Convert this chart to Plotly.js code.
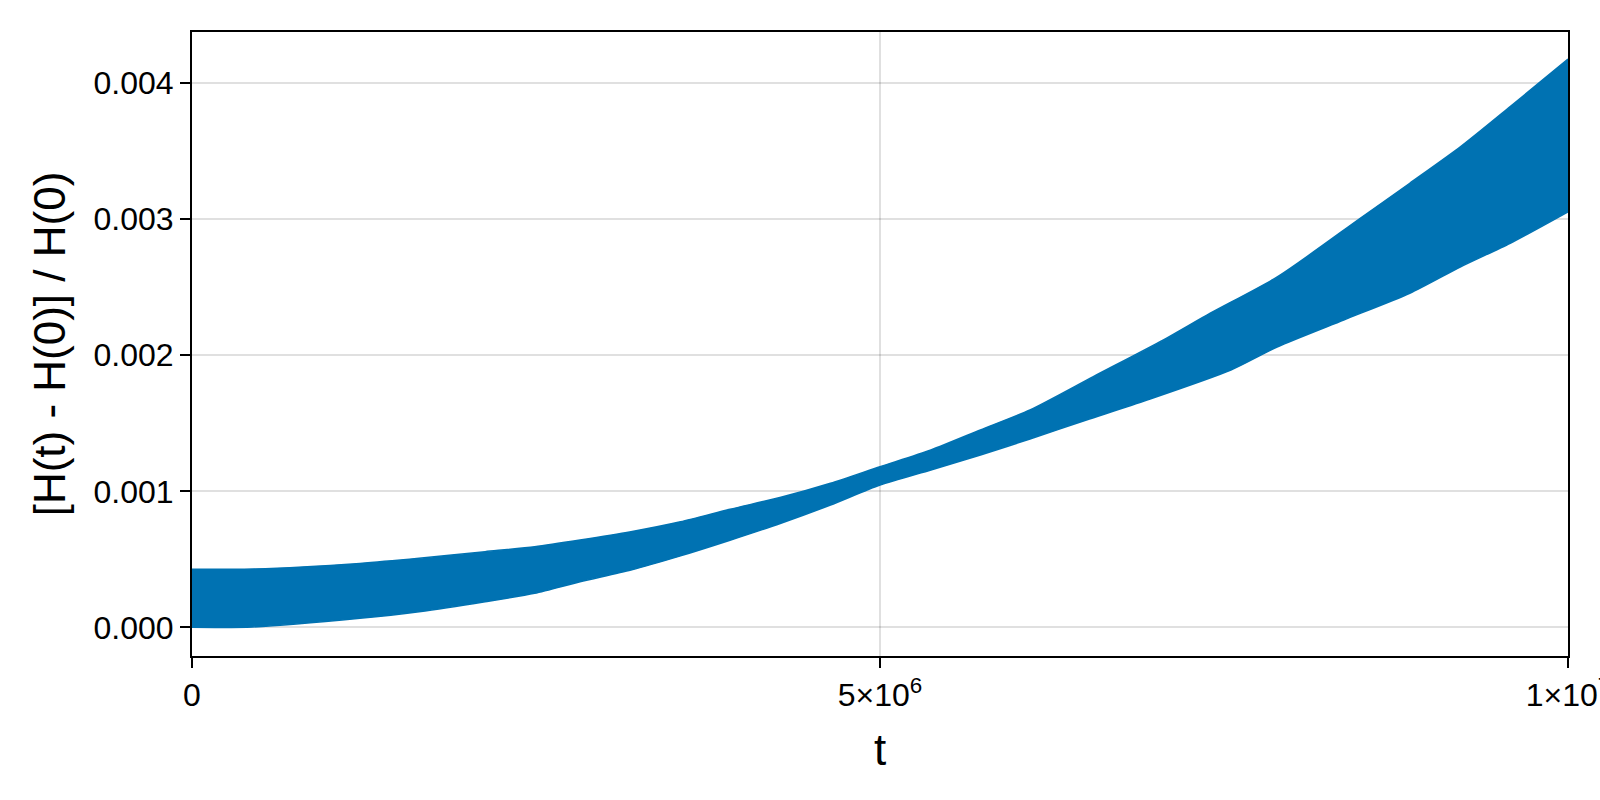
<!DOCTYPE html>
<html>
<head>
<meta charset="utf-8">
<script src="https://cdn.plot.ly/plotly-3.0.1.min.js"></script>
<style>
  html, body { margin: 0; padding: 0; background: #ffffff; }
  #chart { width: 1600px; height: 800px; }
</style>
</head>
<body>
<div id="chart"></div>
<script>
// Upper envelope of the oscillating energy error (t in units of 1e6)
const tUpper = [0, 0.44, 1.22, 1.65, 2.13, 2.49, 2.82, 3.19, 3.55, 3.91, 4.28, 4.64, 5.00, 5.37, 5.73, 6.09, 6.55, 7.06, 7.40, 7.89, 8.49, 8.85, 9.22, 9.58, 10.0];
const hUpper = [0.000426, 0.000429, 0.000470, 0.000507, 0.000556, 0.000593, 0.000642, 0.000703, 0.000776, 0.000868, 0.000956, 0.001059, 0.001181, 0.001304, 0.001451, 0.001598, 0.001843, 0.002113, 0.002309, 0.002578, 0.003007, 0.003265, 0.003534, 0.003828, 0.004178];
// Lower envelope
const tLower = [0, 0.44, 1.22, 1.65, 2.13, 2.49, 2.82, 3.19, 3.55, 3.91, 4.28, 4.64, 5.00, 5.37, 5.73, 6.09, 6.50, 6.94, 7.55, 7.89, 8.37, 8.85, 9.22, 9.58, 10.0];
const hLower = [0.0, 0.000002, 0.000066, 0.000115, 0.000188, 0.000250, 0.000335, 0.000421, 0.000525, 0.000640, 0.000765, 0.000899, 0.001046, 0.001157, 0.001267, 0.001385, 0.001524, 0.001671, 0.001892, 0.002063, 0.002260, 0.002456, 0.002651, 0.002824, 0.003055];

const tScale = 1e6;
const xTickVals = [0, 5e6, 1e7];
const xTickText = ['0', '5×10<sup>6</sup>', '1×10<sup>7</sup>'];
const yTickVals = [0, 0.001, 0.002, 0.003, 0.004];
const yTickText = ['0.000', '0.001', '0.002', '0.003', '0.004'];

const blue = '#0072B2';

const lower = {
  x: tLower.map(v => v * tScale), y: hLower,
  type: 'scatter', mode: 'lines',
  line: { color: blue, width: 1.5, shape: 'spline', smoothing: 0.7 },
  hoverinfo: 'skip', showlegend: false
};
const upper = {
  x: tUpper.map(v => v * tScale), y: hUpper,
  type: 'scatter', mode: 'lines',
  fill: 'tonexty', fillcolor: blue,
  line: { color: blue, width: 1.5, shape: 'spline', smoothing: 0.7 },
  hoverinfo: 'skip', showlegend: false
};

const font = 'Liberation Sans, Arial, Helvetica, sans-serif';
const grid = 'rgba(0,0,0,0.12)';

const layout = {
  width: 1600, height: 800,
  margin: { l: 192, r: 32, t: 32, b: 144, pad: 0 },
  paper_bgcolor: '#ffffff', plot_bgcolor: '#ffffff',
  font: { family: font, color: '#000000' },
  showlegend: false,
  xaxis: {
    range: [0, 1e7],
    tickmode: 'array', tickvals: xTickVals, ticktext: xTickText,
    ticks: 'outside', ticklen: 10, tickwidth: 2, tickcolor: '#000',
    tickfont: { size: 32, family: font, color: '#000' },
    ticklabeloverflow: 'allow',
    showline: true, linecolor: '#000', linewidth: 2, mirror: true,
    showgrid: true, gridcolor: grid, gridwidth: 2,
    zeroline: false,
    title: { text: 't', font: { size: 44, family: font, color: '#000' }, standoff: 22 },
    automargin: false
  },
  yaxis: {
    range: [-0.000211, 0.004377],
    tickmode: 'array', tickvals: yTickVals, ticktext: yTickText,
    ticks: 'outside', ticklen: 10, tickwidth: 2, tickcolor: '#000',
    tickfont: { size: 32, family: font, color: '#000' },
    showline: true, linecolor: '#000', linewidth: 2, mirror: true,
    showgrid: true, gridcolor: grid, gridwidth: 2,
    zeroline: false,
    title: { text: '[H(t) - H(0)] / H(0)', font: { size: 44, family: font, color: '#000' }, standoff: 14 },
    automargin: false
  }
};

Plotly.newPlot('chart', [lower, upper], layout, { displayModeBar: false, staticPlot: true });
</script>
</body>
</html>
